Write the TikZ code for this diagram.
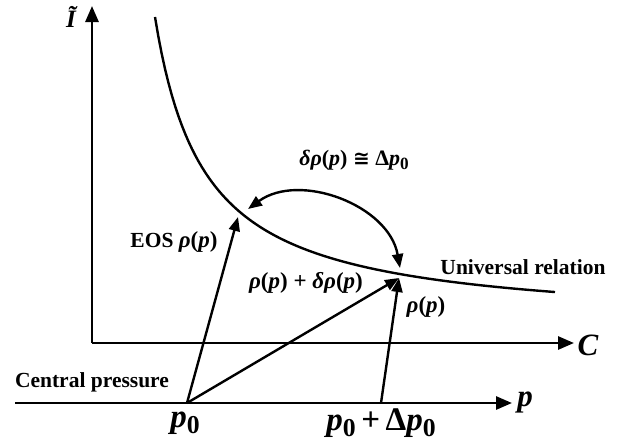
\documentclass[tikz,border=0pt]{standalone}
\usepackage{fontspec}
\setmainfont{Liberation Serif}
\newfontfamily\symfnt{DejaVu Sans}
\usetikzlibrary{arrows.meta}
\newcommand{\mi}[1]{\textbf{\textit{#1}}}
\newcommand{\zerosub}{\raisebox{-0.18em}{\scalebox{0.78}{\textbf{0}}}}
\tikzset{
  ax/.style={line width=2.8pt,-{Triangle[length=16pt,width=13pt]}},
  arr/.style={line width=2.4pt,-{Triangle[length=14pt,width=11pt]}},
  darr/.style={line width=2.4pt,{Triangle[length=14pt,width=11pt]}-{Triangle[length=14pt,width=11pt]}},
  curve/.style={line width=2.4pt},
  lbl/.style={inner sep=0pt,font=\bfseries\fontsize{21.5}{24}\selectfont},
  mth/.style={inner sep=0pt,font=\bfseries\fontsize{23}{26}\selectfont},
  big/.style={inner sep=0pt,font=\bfseries\fontsize{33}{36}\selectfont},
}
\begin{document}
\begin{tikzpicture}[x=1pt,y=-1pt]
\useasboundingbox (0,0) rectangle (632,445);
% axes
\coordinate (O) at (92,343);
\coordinate (Itop) at (92,6);
\coordinate (Cend) at (574,343);
\coordinate (Pstart) at (15,403);
\coordinate (Pend) at (512,403);
\coordinate (p0) at (187,403);
\coordinate (p1) at (381,403);
\coordinate (A) at (238,217);
\coordinate (B) at (399,278);
\coordinate (Bt) at (400,268);
\coordinate (At) at (248,209);
\draw[ax] (O) -- (Itop);
\draw[ax] (O) -- (Cend);
\draw[ax] (Pstart) -- (Pend);
% universal relation curve
\draw[curve] plot[domain=155:555,samples=120] (\x,{326.2-15368/(\x-105.3)});
% arrows
\draw[arr] (p0) -- (A);
\draw[arr] (p0) -- (B);
\draw[arr] (p1) -- (B);
\draw[darr] (At) to[out=36,in=100] (Bt);
% labels
\node[big,font=\bfseries\fontsize{25}{28}\selectfont] (Ilbl) at (72,17) {\mi{\~{I}}};
\node[big,font=\bfseries\fontsize{31}{34}\selectfont] (Clbl) at (588,345) {\mi{C}};
\node[big,font=\bfseries\fontsize{31}{34}\selectfont] (plbl) at (525,402) {\mi{p}};
\node[big] (p0lbl) at (185,423) {\mi{p}\zerosub};
\node[big] (p1lbl) at (381,423) {\mi{p}\zerosub\,+\,\textbf{Δ}\mi{p}\zerosub};
\node[mth,font=\bfseries\fontsize{22}{25}\selectfont] (dlbl) at (354,160) {\mi{δρ}(\mi{p}) {\symfnt\fontsize{20}{24}\selectfont ≅} \textbf{Δ}\mi{p}\zerosub};
\node[mth] (eos) at (174,242) {\fontsize{21.5}{24}\selectfont EOS \fontsize{23}{26}\selectfont\mi{ρ}(\mi{p})};
\node[mth] (sum) at (306,283) {\mi{ρ}(\mi{p}) + \mi{δρ}(\mi{p})};
\node[mth] (rho) at (426,307) {\mi{ρ}(\mi{p})};
\node[lbl] (univ) at (523,267) {Universal relation};
\node[lbl] (cp) at (92,382) {Central pressure};
\end{tikzpicture}
\end{document}
